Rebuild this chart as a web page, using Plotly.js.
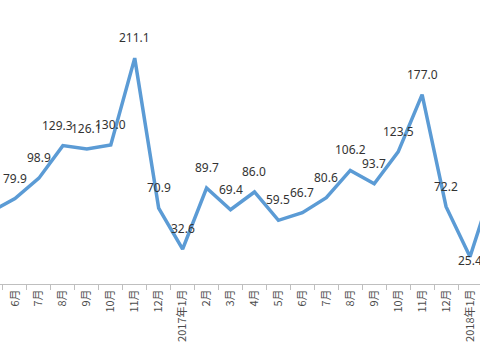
<!DOCTYPE html>
<html>
<head>
<meta charset="utf-8">
<script src="https://cdn.plot.ly/plotly-3.0.1.min.js"></script>
<style>html,body{margin:0;padding:0;background:#fff;}#chart{width:480px;height:360px;}</style>
</head>
<body>
<div id="chart"></div>
<script>
// Month labels (2016-05 .. 2018-02)
const categories = ['5月','6月','7月','8月','9月','10月','11月','12月',
  '2017年1月','2月','3月','4月','5月','6月','7月','8月','9月','10月','11月','12月',
  '2018年1月','2月'];
// Monthly values
const values = [67.5, 79.9, 98.9, 129.3, 126.1, 130.0, 211.1, 70.9,
  32.6, 89.7, 69.4, 86.0, 59.5, 66.7, 80.6, 106.2, 93.7, 123.5, 177.0, 72.2,
  25.4, 95.0];

const idx = categories.map((c, i) => i);
const labels = values.map(v => v.toFixed(1));
const labelFont = {family: 'Noto Sans, Noto Sans CJK SC, sans-serif', size: 12, color: '#333333'};

const trace = {
  x: idx,
  y: values,
  type: 'scatter',
  mode: 'lines+text',
  // only the first (off-edge) label is drawn as trace text; the rest are annotations
  text: labels.map((t, i) => (i === 0 ? t : '')),
  textposition: 'top center',
  textfont: labelFont,
  line: {color: '#5B9BD5', width: 3.5},
  cliponaxis: false,
  hoverinfo: 'skip'
};

const annotations = values.map((v, i) => {
  const low = (i === 20);
  return {
    x: idx[i], y: v, xref: 'x', yref: 'y',
    text: labels[i], showarrow: false,
    font: labelFont,
    xanchor: 'center',
    yanchor: low ? 'middle' : 'bottom',
    yshift: low ? -4 : 10,
    xshift: (i === 3) ? -5 : 0
  };
}).filter((a, i) => i > 0 && i < 21);

const layout = {
  width: 480, height: 360,
  margin: {l: 0, r: 0, t: 0, b: 76, pad: 0},
  paper_bgcolor: '#ffffff', plot_bgcolor: '#ffffff',
  showlegend: false,
  font: {family: 'Noto Sans CJK SC, Noto Sans, sans-serif', color: '#595959'},
  annotations: annotations,
  xaxis: {
    range: [0.375, 20.417],
    tickvals: idx,
    ticktext: categories,
    tickangle: -90,
    ticks: '',
    tickfont: {size: 11, color: '#4d4d4d', family: 'Noto Sans CJK SC, Noto Sans, sans-serif'},
    showline: true, linecolor: '#BFBFBF', linewidth: 1,
    showgrid: false, zeroline: false, automargin: false,
    minor: {tickvals: idx.map(i => i + 0.5), ticks: 'outside', ticklen: 5, tickcolor: '#BFBFBF', showgrid: false}
  },
  yaxis: {
    range: [0, 265.4],
    visible: false, showgrid: false, zeroline: false, fixedrange: true
  }
};

Plotly.newPlot('chart', [trace], layout, {staticPlot: true});
</script>
</body>
</html>
